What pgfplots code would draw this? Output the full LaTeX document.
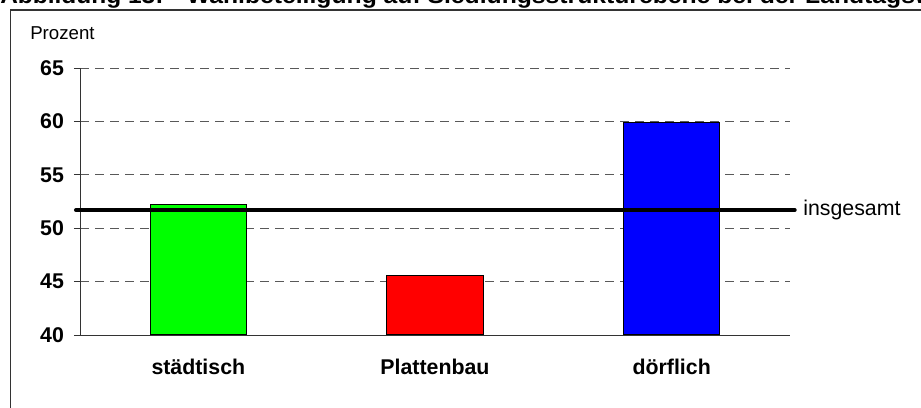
\documentclass[border=0pt]{standalone}
\usepackage{pgfplots}
\pgfplotsset{compat=1.18}
\usepackage{fontspec}
\setmainfont{Liberation Sans}

% 1 px of the 921x407 reference = 0.75pt
\pgfplotsset{
  common/.style={
    at={(60pt,54pt)}, anchor=south west, scale only axis,
    width=532.5pt, height=200.25pt,
    xmin=-0.5, xmax=2.5, ymin=40, ymax=65,
  },
}

\begin{document}
\begin{tikzpicture}
\path[use as bounding box] (0,0) rectangle (690.75pt,305.25pt);
% title, cut off at the top as in the source
\node[anchor=base west, inner sep=0pt, xscale=1.08, font=\fontsize{17}{20}\selectfont\bfseries] at (0pt,302.25pt) {Abbildung 13:};
\node[anchor=base west, inner sep=0pt, xscale=1.09, font=\fontsize{17}{20}\selectfont\bfseries] at (140pt,302.25pt)
  {Wahlbeteiligung auf Siedlungsstrukturebene bei der Landtagswahl 2004};
\draw[line width=0.8pt, black!80] (7.9pt,-20pt) -- (7.9pt,297.75pt) -- (720pt,297.75pt);
\node[anchor=base west, inner sep=0pt, font=\fontsize{14}{16}\selectfont] at (22.5pt,275.25pt) {Prozent};

\begin{axis}[common,
  axis x line*=bottom, axis y line*=left,
  axis line style={black!80, line width=0.6pt},
  tick align=outside, xtick pos=bottom, ytick pos=left,
  ytick={40,45,...,65},
  ymajorgrids, grid style={black!65, dash pattern=on 6.75pt off 4.5pt, line width=0.5pt},
  xtick={0,1,2}, xticklabels={städtisch, Plattenbau, dörflich},
  major x tick style={draw=none},
  extra x ticks={-0.5,0.5,1.5,2.5}, extra x tick labels={},
  extra x tick style={major tick style={draw=black!80, line width=0.6pt}, grid=none},
  major tick length=4.5pt,
  major y tick style={black!80, line width=0.6pt},
  ticklabel style={font=\fontsize{16}{19}\selectfont\bfseries},
  xticklabel style={yshift=-10pt},
  yticklabel style={xshift=-4pt},
  /pgf/number format/assume math mode=true,
]
\addplot[ybar, bar shift=0pt, bar width=0.406, fill={rgb,255:red,0;green,255;blue,0}, draw=black, line width=0.8pt] coordinates {(0,52.2)};
\addplot[ybar, bar shift=0pt, bar width=0.406, fill={rgb,255:red,255;green,0;blue,0}, draw=black, line width=0.8pt] coordinates {(1,45.6)};
\addplot[ybar, bar shift=0pt, bar width=0.406, fill={rgb,255:red,0;green,0;blue,255}, draw=black, line width=0.8pt] coordinates {(2,59.9)};
\end{axis}

\begin{axis}[common, hide axis, clip=false]
\addplot[black, line width=3pt, line cap=round] coordinates {(-0.517,51.7) (2.52,51.7)};
\node[anchor=west, font=\fontsize{16}{19}\selectfont, inner sep=0pt] at (axis cs:2.555,51.7) {insgesamt};
\end{axis}
\end{tikzpicture}
\end{document}
